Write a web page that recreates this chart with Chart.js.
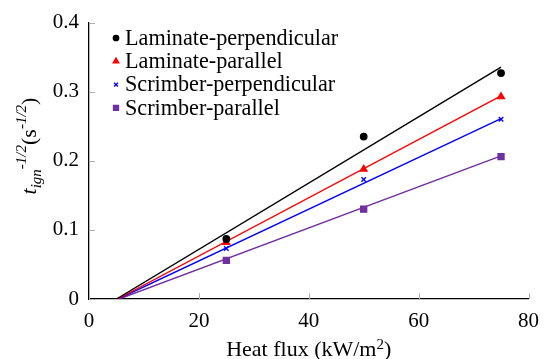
<!DOCTYPE html>
<html>
<head>
<meta charset="utf-8">
<script src="https://cdn.jsdelivr.net/npm/chart.js@4"></script>
<style>
  html, body { margin: 0; padding: 0; background: #fff; }
  #wrap { width: 549px; height: 359px; }
</style>
</head>
<body>
<div id="wrap"><canvas id="ignChart"></canvas></div>
<script>
// heat flux levels (kW/m2)
const heatFlux = [25, 50, 75];
const seriesNames = ['Laminate-perpendicular', 'Laminate-parallel', 'Scrimber-perpendicular', 'Scrimber-parallel'];
const lamPerp = [0.087, 0.235, 0.327];
const lamPara = [0.082, 0.188, 0.293];
const scrPerp = [0.073, 0.173, 0.260];
const scrPara = [0.056, 0.130, 0.206];
// fitted lines: x where t^-1/2 = 0, and value at 75 kW/m2
const fitX0 = [5.0, 5.2, 5.3, 5.5];
const fitEndX = 75;
const fitEndY = [0.3355, 0.294, 0.261, 0.207];
const xTicks = [0, 20, 40, 60, 80];
const yTicks = [0, 0.1, 0.2, 0.3, 0.4];

const colors = ['#000000', '#ff0000', '#0000ff', '#7030a0'];
const styles = ['circle', 'triangle', 'crossRot', 'rect'];
const radii = [3.2, 3.8, 3.2, 4.2];
const values = [lamPerp, lamPara, scrPerp, scrPara];

const datasets = [];
seriesNames.forEach((name, i) => {
    datasets.push({
        label: name,
        data: heatFlux.map((x, k) => ({ x: x, y: values[i][k] })),
        showLine: false,
        pointStyle: styles[i],
        pointRadius: radii[i],
        backgroundColor: colors[i],
        borderColor: colors[i],
        borderWidth: 1.4,
        order: 1
    });
});
seriesNames.forEach((name, i) => {
    datasets.push({
        label: name + ' fit',
        data: [{ x: fitX0[i], y: 0 }, { x: fitEndX, y: fitEndY[i] }],
        showLine: true,
        pointRadius: 0,
        borderColor: colors[i],
        borderWidth: 1.4,
        fill: false,
        order: 2
    });
});

const serif = "'Liberation Serif', 'Times New Roman', serif";

// legend inside plot, axis titles with sub/superscripts, inward ticks
const decor = {
    id: 'decor',
    afterDatasetsDraw(chart) {
        const ctx = chart.ctx;
        const xs = chart.scales.x, ys = chart.scales.y;
        const area = chart.chartArea;
        ctx.save();
        // inward tick marks
        ctx.strokeStyle = '#b0b0b0';
        ctx.lineWidth = 1;
        xTicks.forEach(v => {
            const px = Math.round(xs.getPixelForValue(v)) + 0.5;
            ctx.beginPath();
            ctx.moveTo(px, area.bottom);
            ctx.lineTo(px, area.bottom - 6);
            ctx.stroke();
        });
        yTicks.forEach(v => {
            const py = Math.round(ys.getPixelForValue(v)) + 0.5;
            ctx.beginPath();
            ctx.moveTo(area.left, py);
            ctx.lineTo(area.left + 6, py);
            ctx.stroke();
        });

        // legend
        ctx.textBaseline = 'middle';
        ctx.textAlign = 'left';
        ctx.font = '22.2px ' + serif;
        seriesNames.forEach((name, i) => {
            const y = 38 + i * 23.3;
            ctx.fillStyle = colors[i];
            ctx.strokeStyle = colors[i];
            ctx.lineWidth = 1.3;
            Chart.helpers.drawPoint(ctx, {
                pointStyle: styles[i], radius: radii[i] * 0.85, rotation: 0, borderWidth: 1.3
            }, 116, y);
            ctx.fillStyle = '#000';
            ctx.fillText(name, 125, y + 1);
        });

        // x title: Heat flux (kW/m^2)
        const cx = (area.left + area.right) / 2;
        ctx.fillStyle = '#000';
        ctx.textBaseline = 'alphabetic';
        const p1 = 'Heat flux (kW/m', sup = '2', p2 = ')';
        ctx.font = '22px ' + serif;
        const w1 = ctx.measureText(p1).width, w3 = ctx.measureText(p2).width;
        ctx.font = '15px ' + serif;
        const w2 = ctx.measureText(sup).width;
        let x = cx - (w1 + w2 + w3) / 2;
        const by = 356;
        ctx.font = '22px ' + serif;
        ctx.fillText(p1, x, by); x += w1;
        ctx.font = '15px ' + serif;
        ctx.fillText(sup, x, by - 7); x += w2;
        ctx.font = '22px ' + serif;
        ctx.fillText(p2, x, by);

        // y title: t_ign^-1/2 (s^-1/2), rotated
        const parts = [
            { t: 't', f: 'italic 22px ' + serif, dy: 0 },
            { t: 'ign', f: 'italic 15px ' + serif, dy: 5 },
            { t: '-1/2', f: 'italic 15px ' + serif, dy: -10 },
            { t: '(s', f: '22px ' + serif, dy: 0 },
            { t: '-1/2', f: 'italic 15px ' + serif, dy: -10 },
            { t: ')', f: '22px ' + serif, dy: 0 }
        ];
        const widths = parts.map(p => { ctx.font = p.f; return ctx.measureText(p.t).width; });
        const total = widths.reduce((a, b) => a + b, 0);
        ctx.translate(36, 146);
        ctx.rotate(-Math.PI / 2);
        let tx = -total / 2;
        parts.forEach((p, i) => {
            ctx.font = p.f;
            ctx.fillText(p.t, tx, p.dy);
            tx += widths[i];
        });
        ctx.restore();
    }
};

const ctx = document.getElementById('ignChart').getContext('2d');
new Chart(ctx, {
    type: 'scatter',
    data: { datasets: datasets },
    options: {
        responsive: true,
        maintainAspectRatio: false,
        animation: false,
        layout: { padding: { top: 22, right: 20, left: 0, bottom: 0 } },
        plugins: {
            legend: { display: false },
            tooltip: { enabled: false }
        },
        scales: {
            x: {
                type: 'linear',
                min: 0,
                max: 80,
                afterFit: s => { s.height = 60; },
                afterBuildTicks: s => { s.ticks = xTicks.map(v => ({ value: v })); },
                grid: { drawOnChartArea: false, drawTicks: false },
                border: { color: '#000', width: 1.3 },
                ticks: { color: '#000', padding: 10, font: { family: serif, size: 21 } }
            },
            y: {
                type: 'linear',
                min: 0,
                max: 0.4,
                afterFit: s => { s.width = 89; },
                afterBuildTicks: s => { s.ticks = yTicks.map(v => ({ value: v })); },
                grid: { drawOnChartArea: false, drawTicks: false },
                border: { color: '#000', width: 1.3 },
                ticks: { color: '#000', padding: 10, font: { family: serif, size: 21 } }
            }
        }
    },
    plugins: [decor]
});
</script>
</body>
</html>
